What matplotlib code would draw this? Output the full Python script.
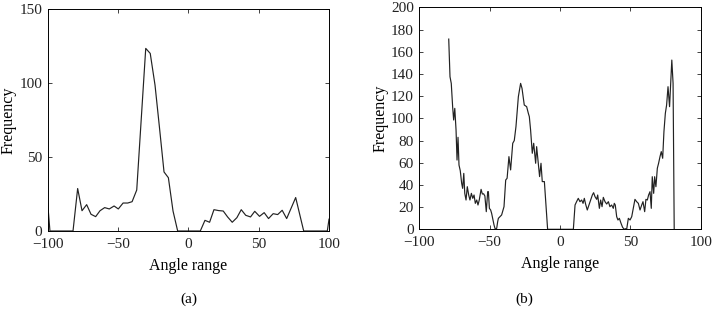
import matplotlib
matplotlib.use("Agg")
import matplotlib.pyplot as plt

# panel (a): angle histogram, coarse bins
angle_a = [-100, -98.4, -82, -78.7, -75.6, -72.3, -69.2, -65.9, -62.8, -59.5, -56.2,
           -52.8, -49.8, -46.4, -43.1, -40.0, -36.7, -30.3, -27.1, -23.7, -20.6,
           -17.3, -14.2, -10.9, -7.6, 8.5, 11.8, 15.1, 18.2, 21.5, 24.8, 27.9,
           31.2, 34.5, 37.6, 40.8, 44.2, 47.2, 50.6, 53.9, 57.0, 60.3, 63.5,
           66.7, 69.9, 76.3, 82.0, 98.8, 100]
freq_a = [18.7, 0, 0, 28.7, 13.7, 17.8, 11.3, 9.7, 13.7, 15.8, 14.9,
          16.9, 14.9, 18.9, 18.9, 19.8, 27.7, 123.4, 120, 98.6, 70.5,
          39.9, 36, 13.5, 0, 0, 7.2, 5.9, 14.4, 13.8, 13.5, 9.5,
          5.9, 9.0, 14.4, 10.6, 9.5, 13.3, 9.9, 12.4, 8.4, 11.7, 11.1,
          14.0, 8.4, 22.6, 0, 0, 8]

# panel (b): angle histogram, fine bins
angle_b = [-79.1, -78.2, -77.3, -76.3, -75.6, -74.8, -73.9, -73.2, -72.5, -71.8,
           -70.9, -69.9, -69.2, -68.4, -67.7, -66.8, -65.9, -64.9, -64.0, -63.0,
           -62.0, -61.1, -60.2, -59.2, -58.3, -57.4, -56.1, -55.2, -54.3, -53.4,
           -52.4, -51.4, -50.9, -50.2, -49.3, -48.6, -47.9, -46.9, -46.0, -45.0,
           -44.3, -43.8, -41.5, -39.8, -38.6, -37.6, -36.3, -35.1, -33.6, -32.5,
           -31.3, -29.6, -28.0, -27.0, -25.4, -23.7, -22.5, -21.8, -20.9, -19.7,
           -18.7, -17.3, -16.6, -15.4, -14.5, -13.5, -12.6, -11.1, -8.8, 9.5,
           10.7, 11.8, 13.0, 14.2, 15.4, 16.4, 17.3, 18.2, 19.4, 20.6,
           21.8, 23.0, 23.9, 24.9, 26.1, 26.8, 28.0, 28.9, 29.9, 30.8,
           32.0, 33.2, 34.4, 35.5, 36.7, 37.9, 38.6, 39.3, 40.3, 41.2,
           42.2, 43.4, 44.5, 45.7, 46.7, 47.4, 48.6, 49.8, 51.0, 52.1,
           53.3, 54.5, 55.7, 56.9, 58.1, 59.0, 60.2, 61.1, 62.1, 63.0,
           64.0, 64.9, 65.6, 66.6, 67.3, 68.2, 69.2, 70.1, 71.1, 72.0,
           73.0, 73.9, 74.9, 75.8, 76.8, 77.9, 78.9, 79.5, 80.4, 81.2]
freq_b = [171.4, 137.5, 131.5, 110, 98.5, 109, 89.5, 62.4, 82.9, 57.9,
          52.8, 41.4, 36.9, 50.4, 32.4, 26.4, 38.4, 30.9, 26.4, 32.4,
          27.9, 30.9, 23.4, 26.4, 21.9, 26.4, 36, 31.8, 32, 30,
          15.9, 33.9, 33.9, 18.9, 17.4, 14.4, 9.9, 3.9, 0, 0.9,
          6.9, 9.9, 12.9, 20.4, 44.4, 46, 65.5, 53.5, 77.5, 80,
          92.5, 119.5, 131.5, 127, 112, 110.5, 104.5, 101.5, 89.5, 68.5,
          77.5, 59.5, 74.5, 59.5, 47.5, 59.5, 43, 43, 0, 0,
          21.9, 24.9, 27.9, 24.9, 26.4, 23.4, 27.9, 22.8, 17.4, 21.9,
          26.4, 30.9, 33, 29.4, 27, 30.9, 18.9, 26.4, 20.4, 28.8,
          24.9, 22.8, 24.9, 20.4, 21.9, 18.9, 23.4, 21.9, 11.4, 8.4,
          9.9, 5.4, 1.8, 0, 0.6, 0, 9.9, 8.4, 11.4, 18.9,
          27, 24.9, 23.4, 17.4, 21.9, 24.9, 15.9, 27, 26.4, 30.9,
          33.9, 18.9, 47.4, 32.4, 47.4, 38.4, 55, 59.5, 65.5, 70,
          64, 88, 104.5, 112, 128.5, 110.5, 137.5, 152.5, 131.5, 0]

xticks = [-100, -50, 0, 50, 100]
yticks_a = [0, 50, 100, 150]
yticks_b = list(range(0, 201, 20))

plt.rcParams["font.family"] = ["Liberation Serif", "DejaVu Serif"]
plt.rcParams["font.size"] = 11
plt.rcParams["axes.linewidth"] = 0.7

fig = plt.figure(figsize=(7.14, 3.18), dpi=100)
ax_a = fig.add_axes([0.0668, 0.2736, 0.394, 0.698])
ax_b = fig.add_axes([0.5873, 0.2789, 0.394, 0.698])

panels = [
    (ax_a, angle_a, freq_a, yticks_a, 150, "(a)", 0.2640),
    (ax_b, angle_b, freq_b, yticks_b, 200, "(b)", 0.7343),
]

for ax, x, y, yt, ymax, tag, cx in panels:
    ax.plot(x, y, color="#222222", linewidth=0.85)
    ax.set_xlim(-100, 100)
    ax.set_ylim(0, ymax)
    ax.set_xticks(xticks)
    ax.set_yticks(yt)
    ax.tick_params(direction="in", length=3, width=0.6, top=True, right=True,
                   labelsize=11, colors="#222222")
    ax.tick_params(axis="x", pad=5)
    ax.tick_params(axis="y", pad=4)
    ax.set_xlabel("Angle range", fontsize=11.5, labelpad=5)
    ax.set_ylabel("Frequency", fontsize=11.5, labelpad=2)
    fig.text(cx, 0.06, tag, ha="center", va="center", fontsize=11)

fig.savefig("out.png", dpi=100)
